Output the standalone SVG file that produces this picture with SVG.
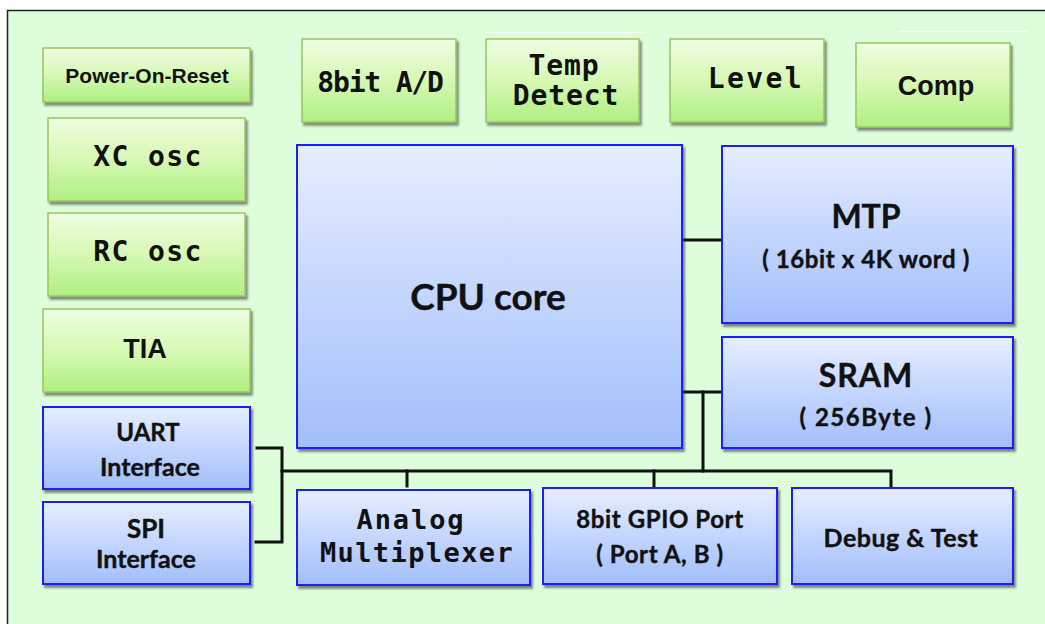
<svg xmlns="http://www.w3.org/2000/svg" width="1045" height="624" viewBox="0 0 1045 624">
  <defs>
    <linearGradient id="gGreen" x1="0" y1="0" x2="0" y2="1">
      <stop offset="0" stop-color="#f0fde2"/>
      <stop offset="0.5" stop-color="#d6f8b4"/>
      <stop offset="1" stop-color="#aef082"/>
    </linearGradient>
    <linearGradient id="gBlue" x1="0" y1="0" x2="0" y2="1">
      <stop offset="0" stop-color="#e6eeff"/>
      <stop offset="0.5" stop-color="#c4d6fe"/>
      <stop offset="1" stop-color="#a2befa"/>
    </linearGradient>
    <filter id="shadow" x="-5%" y="-5%" width="115%" height="120%">
      <feDropShadow dx="2" dy="3" stdDeviation="1" flood-color="#3a3a3a" flood-opacity="0.6"/>
    </filter>
  </defs>
  <style>
    .green { fill: url(#gGreen); stroke: #9cc45e; stroke-width: 1.5; filter: url(#shadow); }
    .blue { fill: url(#gBlue); stroke: #1a1aff; stroke-width: 2; filter: url(#shadow); }
    .mono { font-family: "DejaVu Sans Mono", "Liberation Mono", monospace; font-weight: bold; fill: #111; text-anchor: middle; }
    .sans { font-family: "Liberation Sans", Arial, sans-serif; font-weight: bold; fill: #111; text-anchor: middle; }
    .cal { font-family: Lato, "Open Sans", sans-serif; font-weight: bold; fill: #111; stroke: #111; stroke-width: 0.4; text-anchor: middle; }
    .bus { fill: none; stroke: #111; stroke-width: 3; stroke-linejoin: miter; stroke-linecap: square; }
  </style>

  <!-- page and chip outline -->
  <rect x="0" y="0" width="1045" height="624" fill="#ffffff"/>
  <rect x="7.5" y="10.5" width="1045" height="620" fill="#ddfddb" stroke="#222" stroke-width="1.5"/>
  <line x1="900" y1="31.5" x2="1028" y2="31.5" stroke="#ffffff" stroke-width="1"/>
  <line x1="485" y1="32.5" x2="644" y2="32.5" stroke="#ffffff" stroke-width="1"/>

  <!-- interconnect -->
  <g id="connectors">
    <line class="bus" x1="683" y1="240" x2="721" y2="240"/>
    <line class="bus" x1="683" y1="392" x2="721" y2="392"/>
    <polyline class="bus" points="703,392 703,471"/>
    <polyline class="bus" points="282,471 891,471 891,487"/>
    <line class="bus" x1="407" y1="471" x2="407" y2="486"/>
    <line class="bus" x1="654" y1="471" x2="654" y2="487"/>
    <polyline class="bus" points="257,448 282,448 282,542 256,542"/>
  </g>

  <!-- left column -->
  <g id="por">
    <rect class="green" x="43" y="48" width="207" height="54"/>
    <text class="sans" x="147" y="83" font-size="21">Power-On-Reset</text>
  </g>
  <g id="xc-osc">
    <rect class="green" x="48" y="118" width="197" height="83"/>
    <text class="mono" x="148" y="166" font-size="28" letter-spacing="1.4">XC osc</text>
  </g>
  <g id="rc-osc">
    <rect class="green" x="48" y="213" width="197" height="83"/>
    <text class="mono" x="148" y="261" font-size="28" letter-spacing="1.4">RC osc</text>
  </g>
  <g id="tia">
    <rect class="green" x="43" y="309" width="207" height="83"/>
    <text class="sans" x="145" y="358" font-size="27">TIA</text>
  </g>
  <g id="uart">
    <rect class="blue" x="43" y="407" width="207" height="82"/>
    <text class="cal" x="148" y="441" font-size="24">UART</text>
    <text class="cal" x="150" y="476" font-size="25">Interface</text>
  </g>
  <g id="spi">
    <rect class="blue" x="43" y="502" width="207" height="82"/>
    <text class="cal" x="146" y="538" font-size="26">SPI</text>
    <text class="cal" x="146" y="568" font-size="25">Interface</text>
  </g>

  <!-- top row -->
  <g id="adc">
    <rect class="green" x="302" y="39" width="154" height="83"/>
    <text class="mono" x="380" y="92" font-size="28" letter-spacing="-1.2">8bit A/D</text>
  </g>
  <g id="temp">
    <rect class="green" x="486" y="39" width="153" height="83"/>
    <text class="mono" x="564" y="75" font-size="28" letter-spacing="0.9">Temp</text>
    <text class="mono" x="566" y="105" font-size="28" letter-spacing="0.9">Detect</text>
  </g>
  <g id="level">
    <rect class="green" x="670" y="39" width="154" height="83"/>
    <text class="mono" x="756" y="88" font-size="28" letter-spacing="2.4">Level</text>
  </g>
  <g id="comp">
    <rect class="green" x="856" y="43" width="154" height="84"/>
    <text class="sans" x="936" y="95" font-size="27">Comp</text>
  </g>

  <!-- core and memories -->
  <g id="cpu">
    <rect class="blue" x="297" y="145" width="385" height="303"/>
    <text class="cal" x="488" y="310" font-size="37">CPU core</text>
  </g>
  <g id="mtp">
    <rect class="blue" x="722" y="146" width="291" height="177"/>
    <text class="cal" x="866" y="228" font-size="32">MTP</text>
    <text class="cal" x="866" y="268" font-size="24" letter-spacing="0.6">( 16bit x 4K word )</text>
  </g>
  <g id="sram">
    <rect class="blue" x="722" y="337" width="291" height="111"/>
    <text class="cal" x="866" y="387" font-size="32" letter-spacing="1">SRAM</text>
    <text class="cal" x="866" y="426" font-size="24" letter-spacing="1.5">( 256Byte )</text>
  </g>

  <!-- bottom row -->
  <g id="amux">
    <rect class="blue" x="297" y="490" width="233" height="95"/>
    <text class="mono" x="411" y="529" font-size="27" letter-spacing="1.9">Analog</text>
    <text class="mono" x="417" y="562" font-size="27" letter-spacing="1.4">Multiplexer</text>
  </g>
  <g id="gpio">
    <rect class="blue" x="543" y="488" width="234" height="96"/>
    <text class="cal" x="660" y="528" font-size="24" letter-spacing="0.6">8bit GPIO Port</text>
    <text class="cal" x="660" y="563" font-size="24" letter-spacing="0.6">( Port A, B )</text>
  </g>
  <g id="debug">
    <rect class="blue" x="792" y="488" width="221" height="96"/>
    <text class="cal" x="901" y="547" font-size="25" letter-spacing="0.5">Debug &amp; Test</text>
  </g>
</svg>
